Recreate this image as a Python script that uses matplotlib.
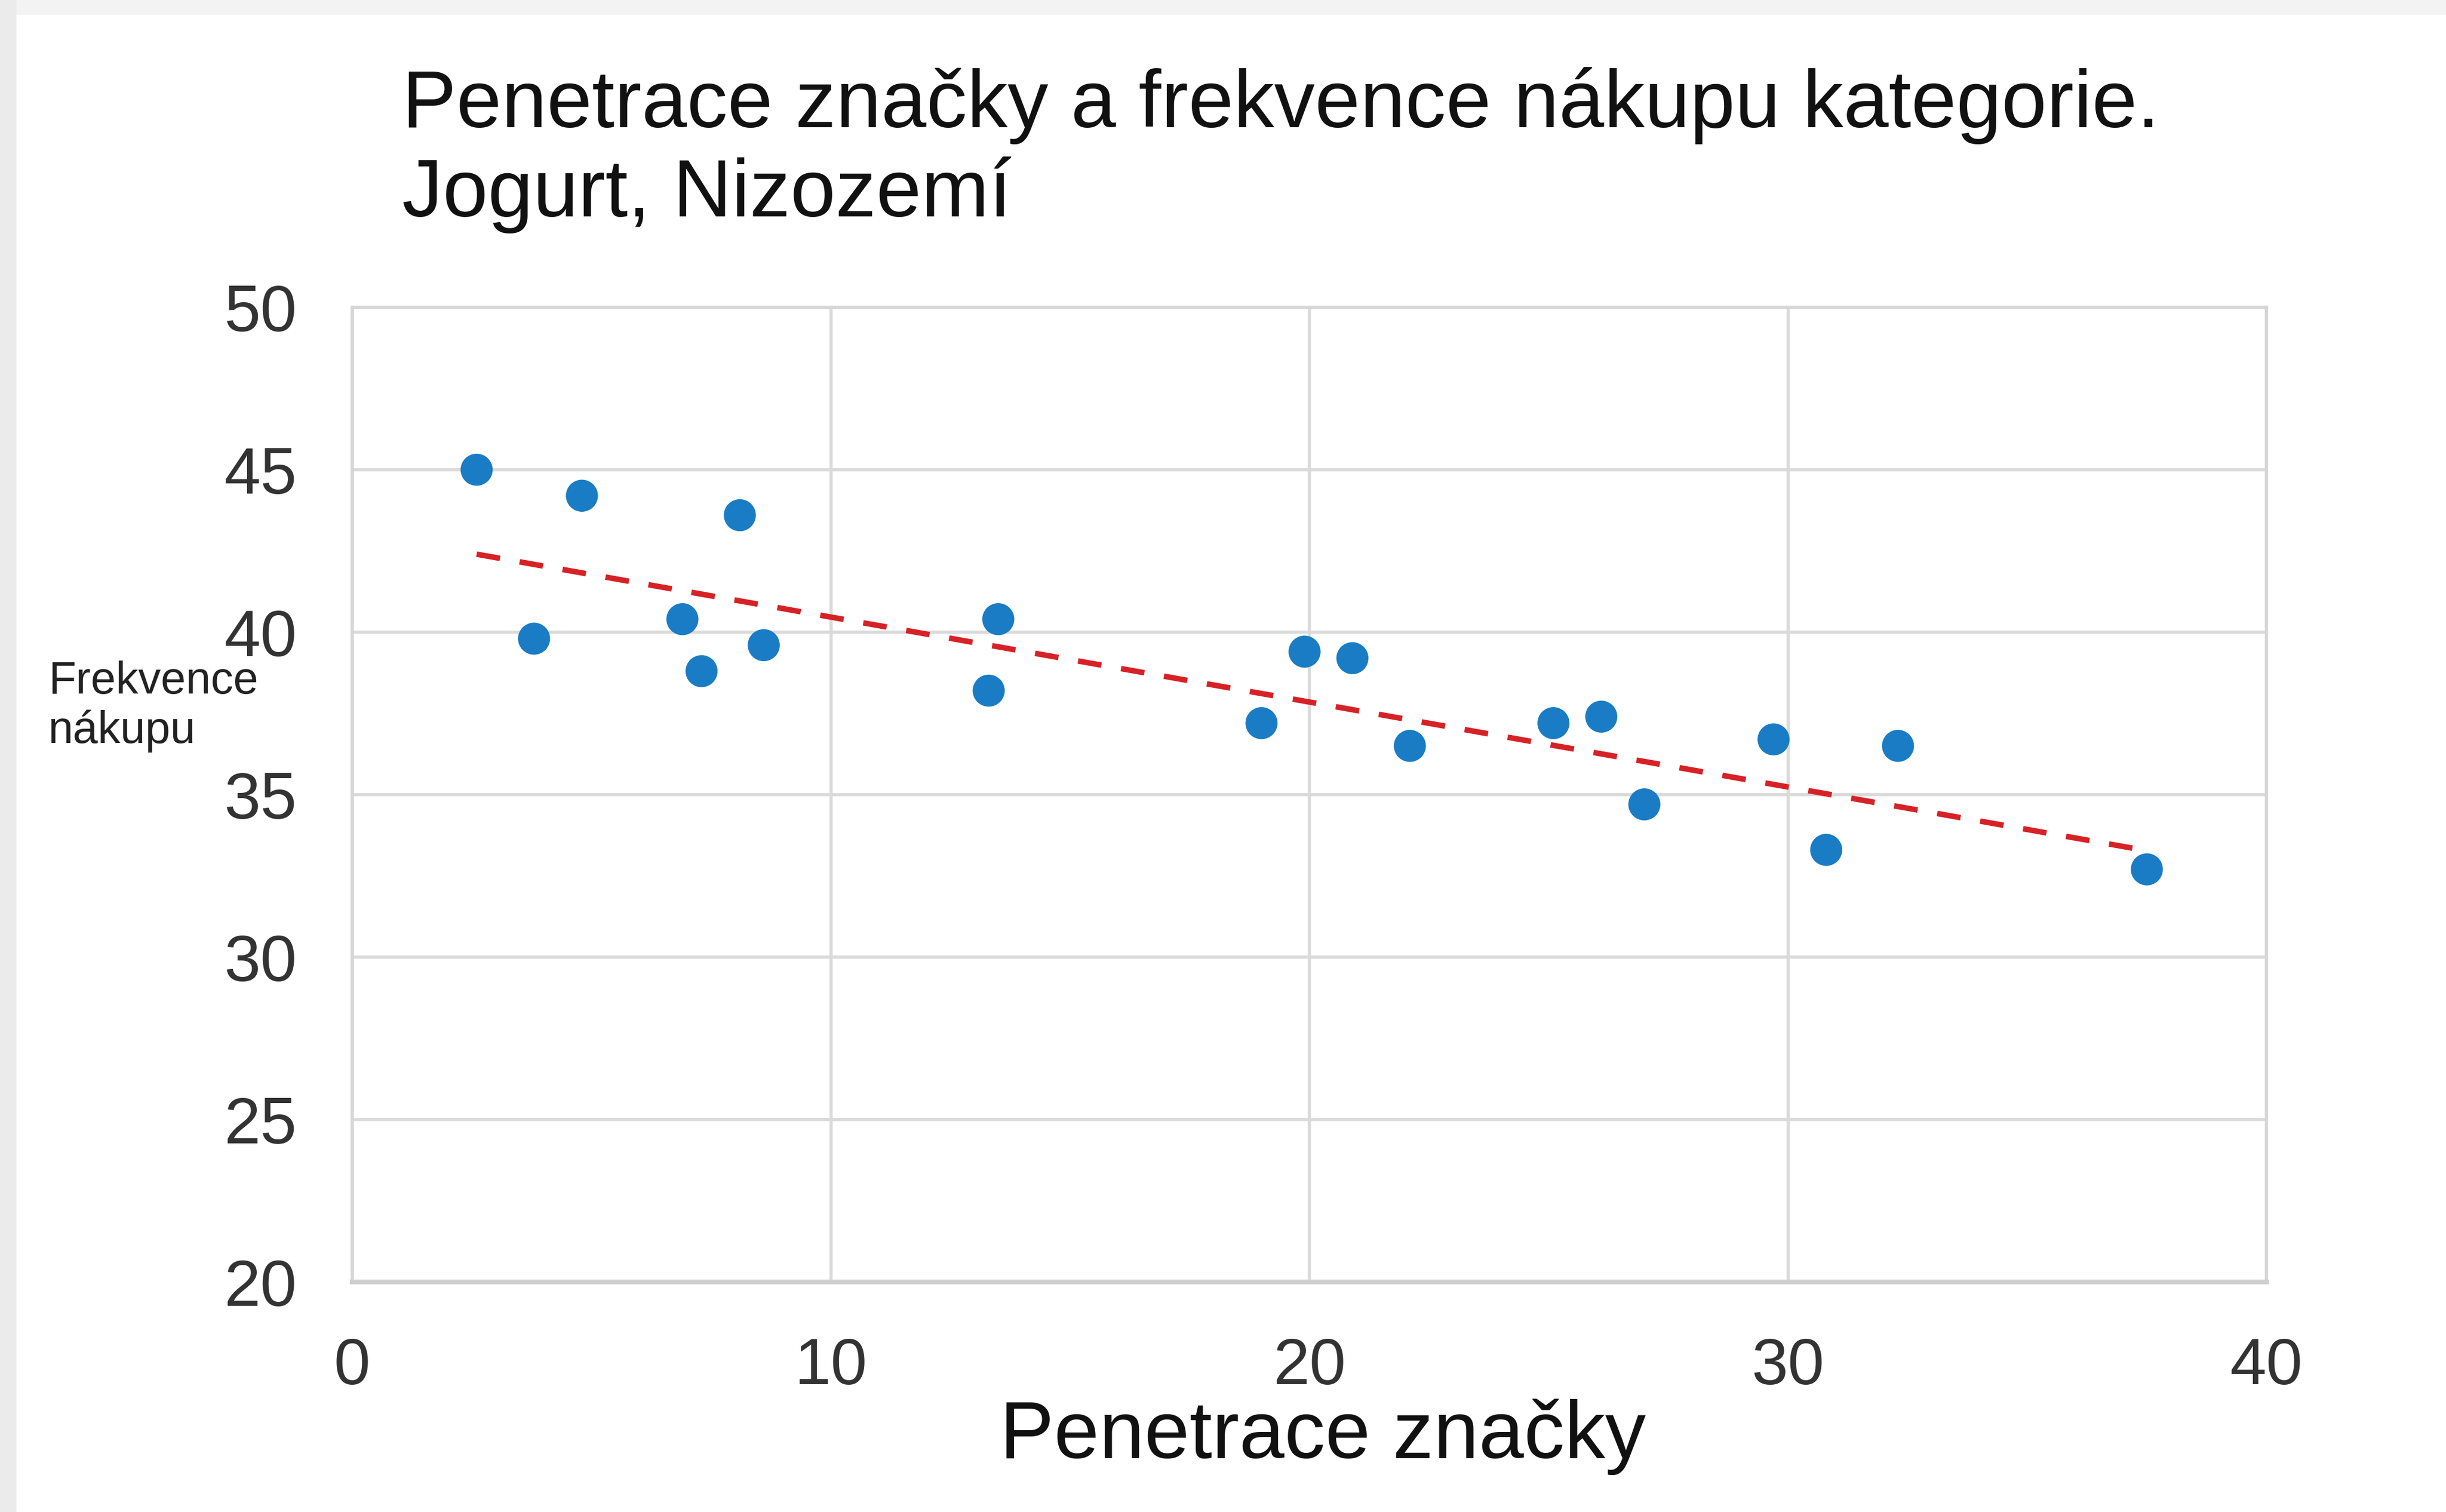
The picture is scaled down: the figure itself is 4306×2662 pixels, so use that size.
import numpy as np
import matplotlib
matplotlib.use("Agg")
import matplotlib.pyplot as plt
from matplotlib.patches import Rectangle

plt.rcParams['font.family'] = ['Liberation Sans', 'DejaVu Sans']

# penetrace znacky (x) vs frekvence nakupu (y)
penetrace = [2.6, 3.8, 4.8, 6.9, 7.3, 8.1, 8.6, 13.3, 13.5, 19.0,
             19.9, 20.9, 22.1, 25.1, 26.1, 27.0, 29.7, 30.8, 32.3, 37.5]
frekvence = [45.0, 39.8, 44.2, 40.4, 38.8, 43.6, 39.6, 38.2, 40.4, 37.2,
             39.4, 39.2, 36.5, 37.2, 37.4, 34.7, 36.7, 33.3, 36.5, 32.7]

# trend line end points as drawn
trend_x = [2.6, 37.4]
trend_y = [42.4, 33.3]

x_ticks = [0, 10, 20, 30, 40]
y_ticks = [20, 25, 30, 35, 40, 45, 50]

W, H = 4306, 2662
fig = plt.figure(figsize=(W / 100, H / 100), dpi=100)
fig.patch.set_facecolor('white')

# light grey frame strip on top and left
fig.patches.append(Rectangle((0, 1 - 26 / H), 1, 26 / H, transform=fig.transFigure,
                             facecolor='#f3f3f3', edgecolor='none', zorder=0))
fig.patches.append(Rectangle((0, 0), 29 / W, 1, transform=fig.transFigure,
                             facecolor='#ebebeb', edgecolor='none', zorder=0))

ax = fig.add_axes([620 / W, 1 - 2257 / H, 3370 / W, 1716 / H])

ax.plot(trend_x, trend_y, color='#d62226', lw=7, linestyle=(0, (4.3, 3.6)),
        dash_capstyle='butt', zorder=2)
ax.scatter(penetrace, frekvence, s=1650, color='#1a7cc4', edgecolors='none', zorder=3)

ax.set_xlim(0, 40)
ax.set_ylim(20, 50)
ax.set_xticks(x_ticks)
ax.set_yticks(y_ticks)
ax.grid(True, color='#dadada', lw=4)
ax.set_axisbelow(True)
for s in ax.spines.values():
    s.set_color('#d6d6d6')
    s.set_linewidth(4)
ax.spines['bottom'].set_linewidth(6)
ax.spines['bottom'].set_color('#cfcfcf')
ax.tick_params(length=0, labelsize=83, labelcolor='#333333', pad=70)

fig.text(708 / W, 1 - 118 / H, 'Penetrace značky a frekvence nákupu kategorie.\nJogurt, Nizozemí',
         fontsize=103, ha='left', va='top', color='#111111')
fig.text(2329 / W, 1 - 2530 / H, 'Penetrace značky', fontsize=103,
         ha='center', va='center', color='#111111')
fig.text(85 / W, 1 - 1244 / H, 'Frekvence\nnákupu', fontsize=57,
         ha='left', va='center', color='#222222')

fig.savefig('out.png', dpi=100)
